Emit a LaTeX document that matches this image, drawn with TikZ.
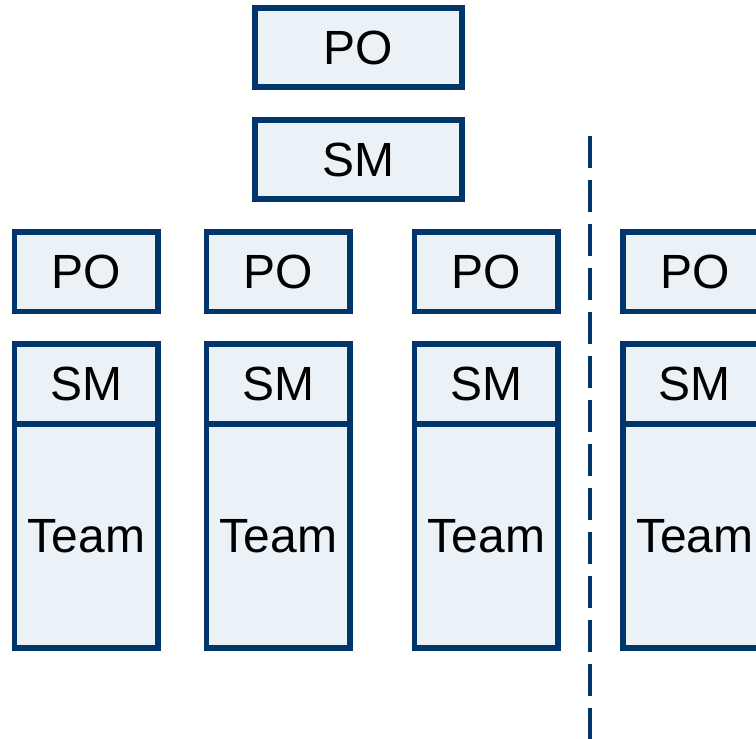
\documentclass[tikz,border=0pt]{standalone}
\usepackage{fontspec}
\setmainfont{Liberation Sans}
\definecolor{boxline}{RGB}{0,54,104}
\definecolor{boxfill}{RGB}{234,242,248}
\begin{document}
\begin{tikzpicture}[x=1pt,y=-1pt,
  box/.style={draw=boxline,fill=boxfill,line width=5.7pt,rectangle,inner sep=0pt,outer sep=0pt,font=\fontsize{48}{56}\selectfont,text=black},
  topbox/.style={box,minimum width=207.6pt,minimum height=79.3pt},
  pobox/.style={box,minimum width=143.8pt,minimum height=79.5pt},
  smbox/.style={box,minimum width=143.8pt,minimum height=79.9pt},
  teambox/.style={box,minimum width=143.8pt,minimum height=224.2pt},
  sep/.style={draw=boxline,line width=4pt,dash pattern=on 32pt off 12pt}]
\useasboundingbox (0,0) rectangle (756,739);
\clip (0,0) rectangle (756,739);
% top
\node[topbox] (topPO) at (358.5,47.5) {PO};
\node[topbox] (topSM) at (358.5,159.5) {SM};
% columns
\foreach \i/\x in {1/86.4, 2/278.4, 3/486.4, 4/694.8}{
  \node[pobox] (po\i) at (\x,271.8) {PO};
  \node[teambox] (team\i) at (\x,535.9) {Team};
  \node[smbox] (sm\i) at (\x,383.9) {SM};
}
% separator
\coordinate (sepTop) at (590.3,135.7);
\coordinate (sepBot) at (590.3,745);
\draw[sep] (sepTop) -- (sepBot);
\end{tikzpicture}
\end{document}
